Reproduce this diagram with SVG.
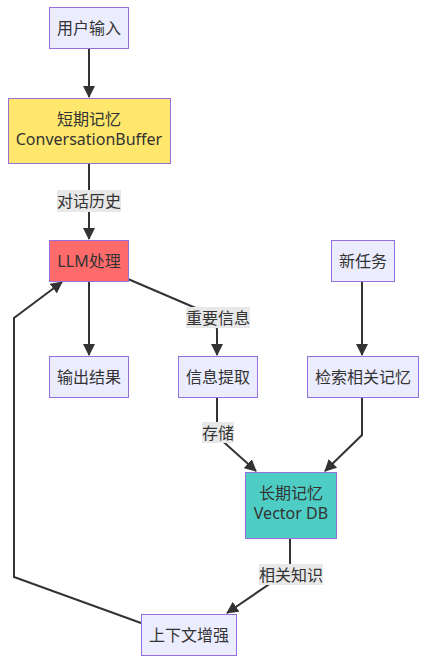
<svg xmlns="http://www.w3.org/2000/svg" width="426" height="663" viewBox="0 0 426 663">
<defs>
<marker id="arr" markerUnits="userSpaceOnUse" markerWidth="12" markerHeight="12" refX="11" refY="6" orient="auto">
<path d="M0,0 L12,6 L0,12 z" fill="#333"/>
</marker>
<style>
.n{fill:#ECECFF;stroke:#9370DB;stroke-width:1}
.t{font-family:"Noto Sans","Noto Sans CJK SC",sans-serif;font-size:16px;fill:#333;text-anchor:middle;dominant-baseline:central}
.e{fill:none;stroke:#333;stroke-width:2;marker-end:url(#arr)}
.lb{fill:#e8e8e8}
</style>
</defs>
<rect width="426" height="663" fill="#fff"/>
<g id="edges">
<path class="e" d="M89,48 L89,97"/>
<path class="e" d="M89,163 L89,239"/>
<path class="e" d="M89,281 L89,355"/>
<path class="e" d="M128,279 L205,312 Q217,318 217,330 L217,355"/>
<path class="e" d="M362,281 L362,355"/>
<path class="e" d="M217,397 L217,436 L256,471"/>
<path class="e" d="M362,397 L362,435 L325,471"/>
<path class="e" d="M290,538 L290,570 L227,613"/>
<path class="e" d="M141,623 L14,577 L14,318 L62,282"/>
</g>
<g id="edge-labels">
<rect class="lb" x="57" y="190" width="64" height="22"/>
<text class="t" x="89" y="201">对话历史</text>
<rect class="lb" x="186" y="307" width="64" height="21"/>
<text class="t" x="218" y="317.5">重要信息</text>
<rect class="lb" x="202" y="422" width="32" height="21"/>
<text class="t" x="218" y="432.5">存储</text>
<rect class="lb" x="259" y="564" width="64" height="21"/>
<text class="t" x="291" y="574.5">相关知识</text>
</g>
<g id="n-input"><rect class="n" x="49.5" y="7.5" width="79" height="41"/><text class="t" x="89" y="28">用户输入</text></g>
<g id="n-short"><rect class="n" x="8.5" y="98.5" width="162" height="65" style="fill:#FFE66D"/><text class="t" x="89" y="119">短期记忆</text><text class="t" x="89" y="139">ConversationBuffer</text></g>
<g id="n-llm"><rect class="n" x="49.5" y="240.5" width="79" height="41" style="fill:#FF6B6B"/><text class="t" x="89" y="261">LLM处理</text></g>
<g id="n-task"><rect class="n" x="331.5" y="240.5" width="63" height="41"/><text class="t" x="363" y="261">新任务</text></g>
<g id="n-output"><rect class="n" x="49.5" y="356.5" width="79" height="41"/><text class="t" x="89" y="377">输出结果</text></g>
<g id="n-extract"><rect class="n" x="178.5" y="356.5" width="79" height="41"/><text class="t" x="218" y="377">信息提取</text></g>
<g id="n-retrieve"><rect class="n" x="307.5" y="356.5" width="111" height="41"/><text class="t" x="363" y="377">检索相关记忆</text></g>
<g id="n-long"><rect class="n" x="245.5" y="472.5" width="91" height="66" style="fill:#4ECDC4"/><text class="t" x="291" y="493">长期记忆</text><text class="t" x="291" y="513">Vector DB</text></g>
<g id="n-context"><rect class="n" x="141.5" y="614.5" width="95" height="41"/><text class="t" x="189" y="635">上下文增强</text></g>
</svg>
